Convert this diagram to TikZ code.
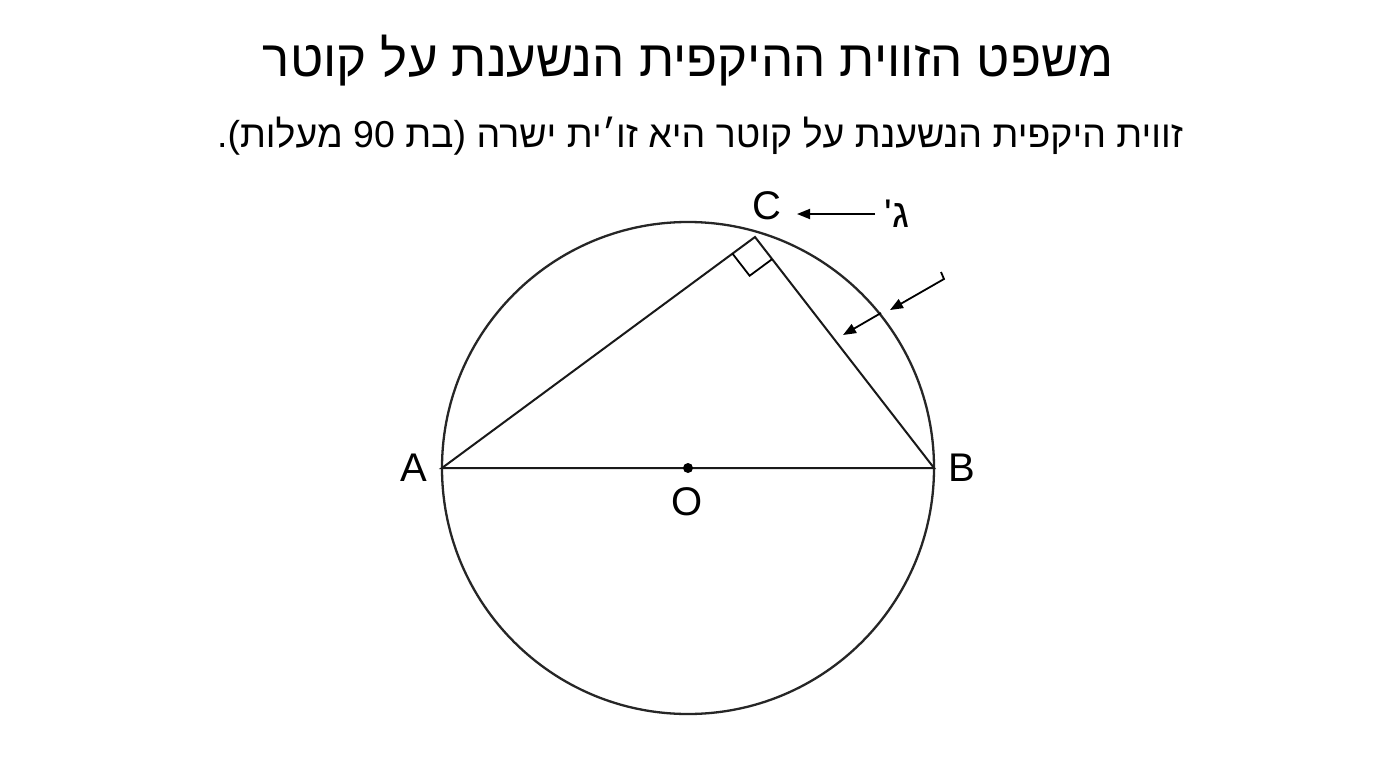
\documentclass[tikz,border=0pt]{standalone}
\usepackage{fontspec}
\setmainfont{Liberation Sans}
\newfontfamily\heb[Script=Hebrew]{Liberation Sans}
\TeXXeTstate=1
\usetikzlibrary{arrows.meta,calc}
\begin{document}
\begin{tikzpicture}[x=1pt,y=-1pt,
  geo/.style={line width=2pt,black!90},
  circ/.style={line width=2.3pt,black!85},
  ptr/.style={line width=1.8pt,-{Triangle[length=13pt,width=10pt]}},
  lab/.style={font=\fontsize{40}{44}\selectfont,inner sep=0pt},
  ttl/.style={font=\heb\fontsize{51}{56}\selectfont,inner sep=0pt},
  sub/.style={font=\heb\fontsize{37.5}{42}\selectfont,inner sep=0pt}]
\useasboundingbox[fill=white] (0,0) rectangle (1376,768);
\node[ttl] (title) at (688,61) {\beginR משפט הזווית ההיקפית הנשענת על קוטר\endR};
\node[sub] (subtitle) at (700,136) {\beginR זווית היקפית הנשענת על קוטר היא זו׳ית ישרה (בת \beginL 90\endL{} מעלות).\endR};
\coordinate (O) at (688,468);
\coordinate (A) at (442,468);
\coordinate (B) at (934,468);
\coordinate (C) at (755,237);
\draw[circ] (O) circle[radius=246];
\draw[geo] (A) -- (B) -- (C) -- cycle;
\coordinate (P1) at ($(C)!28pt!(A)$);
\coordinate (P2) at ($(C)!28pt!(B)$);
\coordinate (P3) at ($(P1)+(P2)-(C)$);
\draw[line width=1.8pt] (P1) -- (P3) -- (P2);
\fill (O) circle[radius=5];
\node[lab] (lA) at (414,468) {A};
\node[lab] (lB) at (962,468) {B};
\node[lab] (lC) at (767,206) {C};
\node[lab] (lO) at (687,502) {O};
\node[font=\heb\fontsize{40}{44}\selectfont,inner sep=0pt] (gimel) at (897,214) {\beginR ג'\endR};
\coordinate (g0) at (875,214);
\coordinate (g1) at (797,214);
\draw[ptr] (g0) -- (g1);
\coordinate (h0) at (941,272);
\coordinate (h1) at (944,279);
\coordinate (h2) at (890,310);
\draw[ptr] (h0) -- (h1) -- (h2);
\coordinate (k0) at (881,313);
\coordinate (k1) at (843,335);
\draw[ptr] (k0) -- (k1);
\end{tikzpicture}
\end{document}
